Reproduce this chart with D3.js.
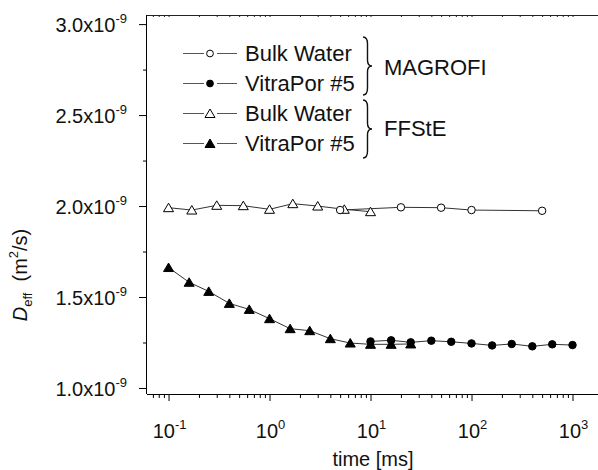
<!DOCTYPE html>
<html>
<head>
<meta charset="utf-8">
<script src="https://cdn.jsdelivr.net/npm/d3@7"></script>
<style>
    body { margin: 0; background: #fff; }
    svg { display: block; font-family: "Liberation Sans", Arial, sans-serif; }
    .tick-label { font-size: 20px; fill: #111; }
    .legend-text { font-size: 22px; fill: #111; }
</style>
</head>
<body>
<svg width="598" height="470"></svg>
<script>
// values in units of 1e-9 m^2/s, time in ms
var magBulkTime = [5, 20, 50, 100, 500];
var magBulkD = [1.978, 1.993, 1.991, 1.978, 1.974];

var magVitraTime = [10, 16, 25, 40, 63, 100, 160, 250, 400, 630, 1000];
var magVitraD = [1.256, 1.262, 1.251, 1.260, 1.254, 1.245, 1.234, 1.242, 1.229, 1.240, 1.236];

var ffsBulkTime = [0.1, 0.17, 0.3, 0.55, 1.0, 1.7, 3.0, 5.5, 10];
var ffsBulkD = [1.991, 1.978, 2.004, 2.002, 1.982, 2.013, 2.0, 1.982, 1.969];

var ffsVitraTime = [0.1, 0.16, 0.25, 0.4, 0.63, 1.0, 1.6, 2.5, 4.0, 6.3, 10, 16, 25];
var ffsVitraD = [1.662, 1.581, 1.531, 1.465, 1.432, 1.381, 1.326, 1.315, 1.271, 1.247, 1.240, 1.240, 1.242];

var yTicks = [1.0, 1.5, 2.0, 2.5, 3.0];
var yMinorTicks = [1.25, 1.75, 2.25, 2.75];
var xTickExp = [-1, 0, 1, 2, 3];

var legendLabels = ['Bulk Water', 'VitraPor #5', 'Bulk Water', 'VitraPor #5'];
var groupLabels = ['MAGROFI', 'FFStE'];

var svg = d3.select('svg');

var plotLeft = 147, plotRight = 598, plotTop = 15, plotBottom = 394;

//log time scale
var xScale = d3.scaleLog()
    .domain([0.0612, 1788])
    .range([plotLeft, plotRight]);

var yScale = d3.scaleLinear()
    .domain([0.967, 3.05])
    .range([plotBottom, plotTop]);

//minor ticks for log axis
var xMinor = [];
for (let e = -2; e <= 3; e++) {
    for (let m = 2; m <= 9; m++) {
        let v = m * Math.pow(10, e);
        if (v > xScale.domain()[0] && v < xScale.domain()[1]) xMinor.push(v);
    }
}
var xMajor = xTickExp.map(e => Math.pow(10, e));

//bottom axis
svg.append('g')
    .attr('transform', 'translate(0,' + plotBottom + ')')
    .call(d3.axisBottom(xScale).tickValues(xMajor).tickSize(7).tickFormat(''))
    .call(g => g.select('.domain').attr('d', 'M' + plotLeft + ',0.5H' + plotRight));
svg.append('g')
    .attr('transform', 'translate(0,' + plotBottom + ')')
    .call(d3.axisBottom(xScale).tickValues(xMinor).tickSize(4).tickFormat(''))
    .call(g => g.select('.domain').remove());

//top axis, short inward ticks
svg.append('g')
    .attr('transform', 'translate(0,' + plotTop + ')')
    .call(d3.axisBottom(xScale).tickValues(xMajor.concat(xMinor)).tickSize(2).tickFormat(''))
    .call(g => g.select('.domain').attr('d', 'M' + plotLeft + ',0.5H' + plotRight))
    .selectAll('path, line').attr('stroke', '#222');

//left axis
svg.append('g')
    .attr('transform', 'translate(' + plotLeft + ',0)')
    .call(d3.axisLeft(yScale).tickValues(yTicks).tickSize(8).tickFormat(''))
    .call(g => g.select('.domain').attr('d', 'M-0.5,' + plotBottom + 'V' + plotTop));
svg.append('g')
    .attr('transform', 'translate(' + plotLeft + ',0)')
    .call(d3.axisLeft(yScale).tickValues(yMinorTicks).tickSize(4).tickFormat(''))
    .call(g => g.select('.domain').remove());

//y tick labels with exponent
var yLab = svg.selectAll('.ylab')
    .data(yTicks)
    .enter()
    .append('text')
    .attr('class', 'tick-label ylab')
    .attr('text-anchor', 'end')
    .attr('x', 127)
    .attr('y', d => yScale(d) + 8);
yLab.append('tspan').text(d => d.toFixed(1) + 'x10');
yLab.append('tspan').attr('dy', -9).style('font-size', '13px').text('-9');

//x tick labels
var xLab = svg.selectAll('.xlab')
    .data(xTickExp)
    .enter()
    .append('text')
    .attr('class', 'tick-label xlab')
    .attr('text-anchor', 'middle')
    .attr('x', d => xScale(Math.pow(10, d)) + 1)
    .attr('y', 438);
xLab.append('tspan').text('10');
xLab.append('tspan').attr('dy', -9).style('font-size', '13px').text(d => d);

//axis titles
svg.append('text')
    .attr('class', 'tick-label')
    .attr('text-anchor', 'middle')
    .attr('x', 373)
    .attr('y', 466)
    .text('time [ms]');

var yTitle = svg.append('text')
    .attr('class', 'tick-label')
    .attr('text-anchor', 'middle')
    .attr('transform', 'translate(27,275) rotate(-90)')
    .style('white-space', 'pre');
yTitle.append('tspan').style('font-style', 'italic').text('D');
yTitle.append('tspan').attr('dy', 5).style('font-size', '13px').text('eff');
yTitle.append('tspan').attr('dy', -5).text('  (m');
yTitle.append('tspan').attr('dy', -9).style('font-size', '13px').text('2');
yTitle.append('tspan').attr('dy', 9).text('/s)');

//marker shapes
function markerPath(shape) {
    if (shape === 'circle') return d3.symbol(d3.symbolCircle, 44)();
    return 'M0,-4.5L5,4L-5,4Z';
}

var series = [
    {time: ffsBulkTime, val: ffsBulkD, shape: 'triangle', fill: '#fff'},
    {time: magBulkTime, val: magBulkD, shape: 'circle', fill: '#fff'},
    {time: ffsVitraTime, val: ffsVitraD, shape: 'triangle', fill: '#000'},
    {time: magVitraTime, val: magVitraD, shape: 'circle', fill: '#000'}
];

var line = d3.line()
    .x(d => xScale(d[0]))
    .y(d => yScale(d[1]));

series.forEach(function (s) {
    let pts = s.time.map((t, i) => [t, s.val[i]]);
    svg.append('path')
        .datum(pts)
        .attr('d', line)
        .attr('fill', 'none')
        .attr('stroke', '#333')
        .attr('stroke-width', 1);
});
series.forEach(function (s) {
    let pts = s.time.map((t, i) => [t, s.val[i]]);
    svg.selectAll(null)
        .data(pts)
        .enter()
        .append('path')
        .attr('d', markerPath(s.shape))
        .attr('transform', d => 'translate(' + [xScale(d[0]), yScale(d[1])] + ')')
        .attr('fill', s.fill)
        .attr('stroke', '#000')
        .attr('stroke-width', 1);
});

//legend
var legendRows = [53, 83, 113, 143];
var legendShapes = [
    {shape: 'circle', fill: '#fff'},
    {shape: 'circle', fill: '#000'},
    {shape: 'triangle', fill: '#fff'},
    {shape: 'triangle', fill: '#000'}
];
var legend = svg.selectAll('.legend')
    .data(legendLabels)
    .enter()
    .append('g')
    .attr('class', 'legend')
    .attr('transform', (d, i) => 'translate(0,' + legendRows[i] + ')');
//line broken around the marker
legend.append('line')
    .attr('x1', 183).attr('x2', 237)
    .attr('y1', 0.5).attr('y2', 0.5)
    .attr('stroke', '#555')
    .attr('stroke-dasharray', '21,13,21');
legend.append('path')
    .attr('d', (d, i) => legendShapes[i].shape === 'circle' ? d3.symbol(d3.symbolCircle, 36)() : markerPath('triangle'))
    .attr('transform', 'translate(210,0.5)')
    .attr('fill', (d, i) => legendShapes[i].fill)
    .attr('stroke', '#000');
legend.append('text')
    .attr('class', 'legend-text')
    .attr('x', 245)
    .attr('y', 8)
    .text(d => d);

//curly braces grouping the legend
function brace(x, y0, y1, w) {
    let ym = (y0 + y1) / 2, h = y1 - y0, xm = x + w / 2;
    return 'M' + x + ',' + y0 +
        'Q' + xm + ',' + y0 + ' ' + xm + ',' + (y0 + h * 0.12) +
        'L' + xm + ',' + (ym - h * 0.1) +
        'Q' + xm + ',' + ym + ' ' + (x + w) + ',' + ym +
        'Q' + xm + ',' + ym + ' ' + xm + ',' + (ym + h * 0.1) +
        'L' + xm + ',' + (y1 - h * 0.12) +
        'Q' + xm + ',' + y1 + ' ' + x + ',' + y1;
}
var braceSpans = [[37, 95], [100, 158]];
svg.selectAll('.brace')
    .data(braceSpans)
    .enter()
    .append('path')
    .attr('class', 'brace')
    .attr('d', d => brace(363, d[0], d[1], 9))
    .attr('fill', 'none')
    .attr('stroke', '#111')
    .attr('stroke-width', 1.4);

svg.selectAll('.group')
    .data(groupLabels)
    .enter()
    .append('text')
    .attr('class', 'legend-text group')
    .attr('x', 384)
    .attr('y', (d, i) => [75, 136][i])
    .text(d => d);
</script>
</body>
</html>
